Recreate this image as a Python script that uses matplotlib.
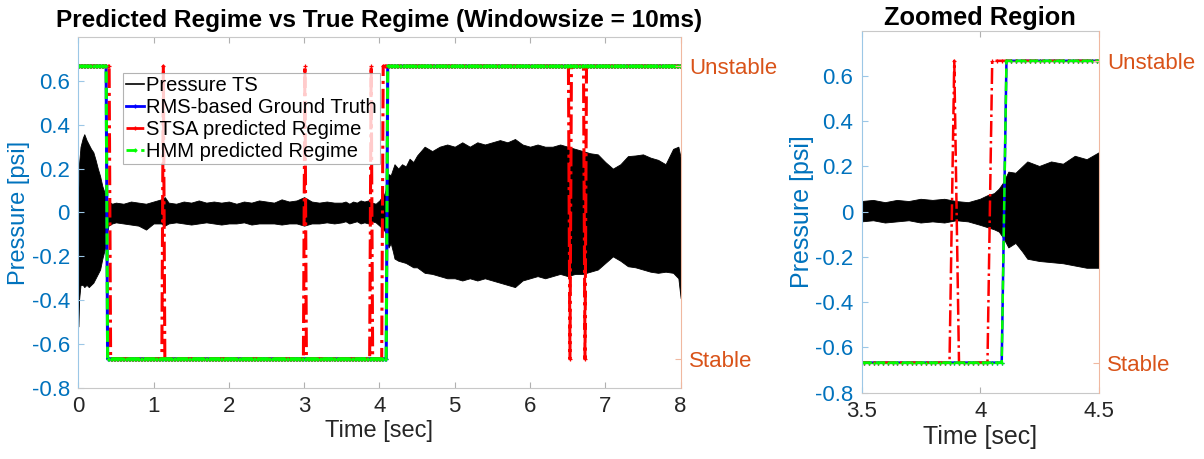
import numpy as np
import matplotlib
matplotlib.use("Agg")
import matplotlib.pyplot as plt
from matplotlib.lines import Line2D

plt.rcParams['font.family'] = ['Liberation Sans', 'DejaVu Sans']

# regime levels and sampling of the regime estimates
LEVEL = 0.667
REG_T0 = 0.01
REG_DT = 0.02
T_END = 8.0

# state at t=0 (+1 unstable, -1 stable) and times where the state flips
gt_start = 1
gt_switch = [0.38, 4.10]
hmm_start = 1
hmm_switch = [0.38, 4.10]
stsa_start = 1
stsa_switch = [0.42, 1.12, 1.14, 3.00, 3.02, 3.88, 3.90, 4.04, 6.52, 6.54, 6.72, 6.74]

# pressure time series envelope
env_t = [0.00, 0.01, 0.03, 0.06, 0.08, 0.11, 0.14, 0.17, 0.20, 0.23, 0.26, 0.29, 0.32, 0.35, 0.38,
         0.40, 0.45, 0.50, 0.60, 0.70, 0.80, 0.90, 1.00, 1.10, 1.15, 1.20, 1.30, 1.40, 1.50, 1.60,
         1.70, 1.80, 1.90, 2.00, 2.10, 2.20, 2.30, 2.40, 2.50, 2.60, 2.70, 2.80, 2.90, 3.00, 3.10,
         3.20, 3.30, 3.40, 3.50, 3.55, 3.60, 3.65, 3.70, 3.75, 3.80, 3.85, 3.90, 3.95, 4.00, 4.03,
         4.06, 4.08, 4.10, 4.12, 4.15, 4.18, 4.20, 4.25, 4.30, 4.35, 4.40, 4.45, 4.50, 4.60, 4.70,
         4.80, 4.90, 5.00, 5.10, 5.20, 5.30, 5.40, 5.50, 5.60, 5.70, 5.80, 5.90, 6.00, 6.10, 6.20,
         6.30, 6.40, 6.50, 6.60, 6.70, 6.80, 6.90, 7.00, 7.10, 7.20, 7.30, 7.40, 7.50, 7.60, 7.70,
         7.80, 7.90, 7.97, 8.00]
env_hi = [0.06, 0.22, 0.30, 0.34, 0.357, 0.33, 0.31, 0.29, 0.275, 0.24, 0.20, 0.166, 0.12, 0.09, 0.06,
          0.05, 0.04, 0.045, 0.04, 0.05, 0.045, 0.04, 0.05, 0.06, 0.07, 0.045, 0.04, 0.05, 0.045, 0.055,
          0.045, 0.05, 0.045, 0.05, 0.04, 0.05, 0.045, 0.055, 0.05, 0.045, 0.06, 0.05, 0.055, 0.07, 0.05,
          0.045, 0.05, 0.045, 0.045, 0.05, 0.04, 0.05, 0.045, 0.055, 0.05, 0.055, 0.045, 0.04, 0.055, 0.07,
          0.08, 0.10, 0.13, 0.175, 0.17, 0.20, 0.22, 0.20, 0.22, 0.21, 0.245, 0.23, 0.26, 0.30, 0.28,
          0.30, 0.31, 0.30, 0.32, 0.30, 0.32, 0.31, 0.32, 0.33, 0.32, 0.335, 0.31, 0.30, 0.31, 0.30,
          0.30, 0.31, 0.30, 0.29, 0.28, 0.27, 0.265, 0.23, 0.20, 0.22, 0.257, 0.26, 0.265, 0.25, 0.24,
          0.22, 0.29, 0.30, 0.25]
env_lo = [-0.52, -0.40, -0.33, -0.33, -0.34, -0.33, -0.34, -0.33, -0.32, -0.30, -0.28, -0.26, -0.21, -0.17, -0.10,
          -0.06, -0.05, -0.045, -0.05, -0.055, -0.06, -0.078, -0.05, -0.05, -0.06, -0.05, -0.045, -0.05, -0.055, -0.05,
          -0.045, -0.05, -0.055, -0.05, -0.05, -0.045, -0.055, -0.05, -0.05, -0.05, -0.055, -0.05, -0.05, -0.06, -0.05,
          -0.05, -0.045, -0.05, -0.045, -0.04, -0.05, -0.045, -0.04, -0.05, -0.045, -0.05, -0.04, -0.045, -0.06, -0.07,
          -0.08, -0.09, -0.12, -0.16, -0.14, -0.18, -0.21, -0.22, -0.225, -0.23, -0.24, -0.25, -0.25, -0.275, -0.28,
          -0.29, -0.30, -0.30, -0.31, -0.30, -0.31, -0.30, -0.31, -0.32, -0.33, -0.34, -0.31, -0.30, -0.29, -0.30,
          -0.29, -0.28, -0.29, -0.28, -0.28, -0.27, -0.26, -0.23, -0.20, -0.22, -0.245, -0.25, -0.26, -0.27, -0.275,
          -0.27, -0.275, -0.30, -0.39]

AX_BLUE = '#0072BD'
AX_ORANGE = '#D95319'
TXT = '#262626'


def regime(start, switches, t):
    flips = np.searchsorted(switches, t, side='right')
    return LEVEL * start * (-1.0) ** flips


def draw_panel(ax, xlim, xticks, title, label_size, title_size, lw, title_pad, ylab_pad):
    ax.fill_between(env_t, env_lo, env_hi, color='k', lw=0.6)
    t = np.arange(REG_T0, T_END, REG_DT)
    ax.plot(t, regime(gt_start, gt_switch, t), '-', color='#0000FF', lw=lw,
            marker='+', ms=3.5, mew=0.9)
    ax.plot(t, regime(stsa_start, stsa_switch, t), '-.', color='#FF0000', lw=lw,
            marker='+', ms=3.5, mew=0.9)
    ax.plot(t, regime(hmm_start, hmm_switch, t), '--', color='#00FF00', lw=lw,
            marker='+', ms=3.5, mew=0.9)

    ax.set_xlim(xlim)
    ax.set_ylim(-0.8, 0.8)
    ax.set_xticks(xticks)
    ax.set_yticks(np.round(np.arange(-0.8, 0.61, 0.2), 1))
    ax.set_yticklabels(['-0.8', '-0.6', '-0.4', '-0.2', '0', '0.2', '0.4', '0.6'])
    ax.tick_params(axis='x', direction='in', top=True, length=4, colors='#b0b0b0',
                   labelcolor=TXT, labelsize=16, pad=6)
    ax.tick_params(axis='y', direction='in', length=4, colors='#9cc7e6',
                   labelcolor=AX_BLUE, labelsize=16, pad=6)
    ax.set_xlabel('Time [sec]', fontsize=label_size, color=TXT, labelpad=2)
    ax.set_ylabel('Pressure [psi]', fontsize=label_size, color=AX_BLUE, labelpad=ylab_pad)
    ax.set_title(title, fontsize=title_size, fontweight='bold', pad=title_pad)
    for s in ['top', 'bottom']:
        ax.spines[s].set_color('#c8c8c8')
    ax.spines['left'].set_color('#9cc7e6')
    ax.spines['right'].set_visible(False)

    ax2 = ax.twinx()
    ax2.set_ylim(-0.8, 0.8)
    ax2.set_yticks([-LEVEL, LEVEL])
    ax2.set_yticklabels(['Stable', 'Unstable'])
    ax2.tick_params(axis='y', direction='in', length=4, colors='#f0b8a0',
                    labelcolor=AX_ORANGE, labelsize=16, pad=6)
    for s in ['top', 'bottom', 'left']:
        ax2.spines[s].set_visible(False)
    ax2.spines['right'].set_color('#f0b8a0')
    return ax


fig = plt.figure(figsize=(12.04, 4.59), dpi=100)
ax_full = fig.add_axes([0.065, 0.1547, 0.5003, 0.7647])
ax_zoom = fig.add_axes([0.7157, 0.1444, 0.1971, 0.7887])

draw_panel(ax_full, (0, 8), range(0, 9), 'Predicted Regime vs True Regime (Windowsize = 10ms)',
           17, 17.6, 2.2, 7, 1)
draw_panel(ax_zoom, (3.5, 4.5), [3.5, 4, 4.5], 'Zoomed Region', 18, 18.3, 1.8, 4, 1)
ax_zoom.set_xticklabels(['3.5', '4', '4.5'])

handles = [
    Line2D([], [], color='k', lw=1.2),
    Line2D([], [], color='#0000FF', lw=2, marker='+', ms=3),
    Line2D([], [], color='#FF0000', lw=2, ls='-.', marker='+', ms=3),
    Line2D([], [], color='#00FF00', lw=2, ls='--', marker='+', ms=3),
]
labels = ['Pressure TS', 'RMS-based Ground Truth', 'STSA predicted Regime', 'HMM predicted Regime']
leg = ax_full.legend(handles, labels, loc='upper left', bbox_to_anchor=(0.074, 0.897),
                     fontsize=14.5, frameon=True, fancybox=False, edgecolor='#a0a0a0',
                     handlelength=0.9, handletextpad=0.1, borderpad=0.15, labelspacing=0.15,
                     borderaxespad=0)
leg.get_frame().set_linewidth(0.8)
leg.set_zorder(5)

fig.savefig('out.png', dpi=100)
